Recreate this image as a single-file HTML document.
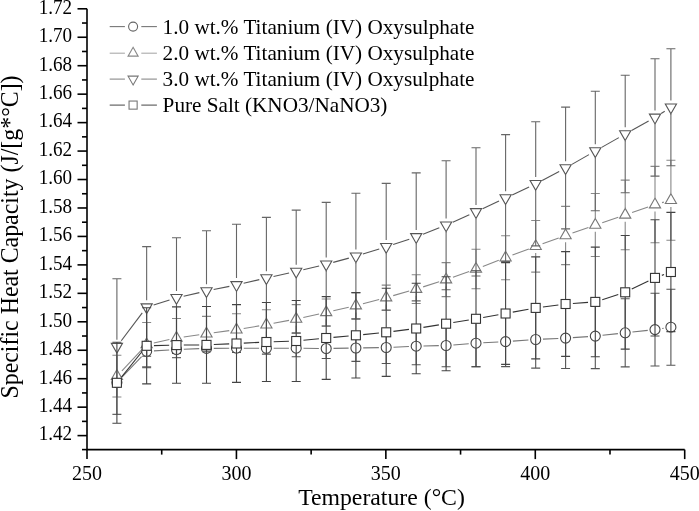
<!DOCTYPE html>
<html><head><meta charset="utf-8"><style>html,body{margin:0;padding:0;background:#fff;}svg{display:block;}</style></head>
<body><svg width="699" height="511" viewBox="0 0 699 511" font-family="'Liberation Serif','Times New Roman',serif" fill="#000">
<rect width="699" height="511" fill="#fff"/>
<g><path d="M112.40 379.50H121.40M112.40 385.50H121.40" stroke="#555" stroke-width="1.1" fill="none"/><path d="M142.15 346.30H151.15M142.15 356.30H151.15" stroke="#555" stroke-width="1.1" fill="none"/><path d="M172.00 345.50H181.00M172.00 353.50H181.00" stroke="#555" stroke-width="1.1" fill="none"/><path d="M202.00 345.00H211.00M202.00 351.80H211.00" stroke="#555" stroke-width="1.1" fill="none"/><path d="M232.00 344.00H241.00M232.00 352.40H241.00" stroke="#555" stroke-width="1.1" fill="none"/><path d="M261.90 342.50H270.90M261.90 354.10H270.90M266.40 342.50V343.30M266.40 353.30V354.10" stroke="#555" stroke-width="1.1" fill="none"/><path d="M291.70 339.60H300.70M291.70 356.80H300.70M296.20 339.60V343.20M296.20 353.20V356.80" stroke="#555" stroke-width="1.1" fill="none"/><path d="M321.70 338.50H330.70M321.70 358.50H330.70M326.20 338.50V343.50M326.20 353.50V358.50" stroke="#555" stroke-width="1.1" fill="none"/><path d="M351.40 334.60H360.40M351.40 361.40H360.40M355.90 334.60V343.00M355.90 353.00V361.40" stroke="#555" stroke-width="1.1" fill="none"/><path d="M381.70 331.50H390.70M381.70 363.50H390.70M386.20 331.50V342.50M386.20 352.50V363.50" stroke="#555" stroke-width="1.1" fill="none"/><path d="M411.70 327.60H420.70M411.70 364.80H420.70M416.20 327.60V341.20M416.20 351.20V364.80" stroke="#555" stroke-width="1.1" fill="none"/><path d="M441.60 324.20H450.60M441.60 366.80H450.60M446.10 324.20V340.50M446.10 350.50V366.80" stroke="#555" stroke-width="1.1" fill="none"/><path d="M471.50 319.60H480.50M471.50 366.80H480.50M476.00 319.60V338.20M476.00 348.20V366.80" stroke="#555" stroke-width="1.1" fill="none"/><path d="M501.10 316.60H510.10M501.10 366.60H510.10M505.60 316.60V336.60M505.60 346.60V366.60" stroke="#555" stroke-width="1.1" fill="none"/><path d="M531.20 310.90H540.20M531.20 368.10H540.20M535.70 310.90V334.50M535.70 344.50V368.10" stroke="#555" stroke-width="1.1" fill="none"/><path d="M561.10 307.70H570.10M561.10 368.50H570.10M565.60 307.70V333.10M565.60 343.10V368.50" stroke="#555" stroke-width="1.1" fill="none"/><path d="M590.80 303.60H599.80M590.80 368.60H599.80M595.30 303.60V331.10M595.30 341.10V368.60" stroke="#555" stroke-width="1.1" fill="none"/><path d="M620.70 298.70H629.70M620.70 366.90H629.70M625.20 298.70V327.80M625.20 337.80V366.90" stroke="#555" stroke-width="1.1" fill="none"/><path d="M650.50 293.20H659.50M650.50 366.00H659.50M655.00 293.20V324.60M655.00 334.60V366.00" stroke="#555" stroke-width="1.1" fill="none"/><path d="M666.40 289.20H675.40M666.40 365.20H675.40M670.90 289.20V322.20M670.90 332.20V365.20" stroke="#555" stroke-width="1.1" fill="none"/><line x1="121.94" y1="377.22" x2="141.61" y2="356.58" stroke="#777" stroke-width="1.1"/><line x1="153.94" y1="350.86" x2="169.21" y2="349.94" stroke="#777" stroke-width="1.1"/><line x1="183.80" y1="349.23" x2="199.20" y2="348.67" stroke="#777" stroke-width="1.1"/><line x1="213.80" y1="348.35" x2="229.20" y2="348.25" stroke="#777" stroke-width="1.1"/><line x1="243.80" y1="348.22" x2="259.10" y2="348.28" stroke="#777" stroke-width="1.1"/><line x1="273.70" y1="348.28" x2="288.90" y2="348.22" stroke="#777" stroke-width="1.1"/><line x1="303.50" y1="348.27" x2="318.90" y2="348.43" stroke="#777" stroke-width="1.1"/><line x1="333.50" y1="348.38" x2="348.60" y2="348.12" stroke="#777" stroke-width="1.1"/><line x1="363.20" y1="347.88" x2="378.90" y2="347.62" stroke="#777" stroke-width="1.1"/><line x1="393.49" y1="347.18" x2="408.91" y2="346.52" stroke="#777" stroke-width="1.1"/><line x1="423.50" y1="346.03" x2="438.80" y2="345.67" stroke="#777" stroke-width="1.1"/><line x1="453.38" y1="344.94" x2="468.72" y2="343.76" stroke="#777" stroke-width="1.1"/><line x1="483.29" y1="342.81" x2="498.31" y2="341.99" stroke="#777" stroke-width="1.1"/><line x1="512.88" y1="341.09" x2="528.42" y2="340.01" stroke="#777" stroke-width="1.1"/><line x1="542.99" y1="339.16" x2="558.31" y2="338.44" stroke="#777" stroke-width="1.1"/><line x1="572.88" y1="337.61" x2="588.02" y2="336.59" stroke="#777" stroke-width="1.1"/><line x1="602.56" y1="335.30" x2="617.94" y2="333.60" stroke="#777" stroke-width="1.1"/><line x1="632.46" y1="332.02" x2="647.74" y2="330.38" stroke="#777" stroke-width="1.1"/><line x1="662.22" y1="328.51" x2="663.68" y2="328.29" stroke="#777" stroke-width="1.1"/><circle cx="116.90" cy="382.50" r="5.00" fill="#fff" stroke="#444" stroke-width="1.1"/><circle cx="146.65" cy="351.30" r="5.00" fill="#fff" stroke="#444" stroke-width="1.1"/><circle cx="176.50" cy="349.50" r="5.00" fill="#fff" stroke="#444" stroke-width="1.1"/><circle cx="206.50" cy="348.40" r="5.00" fill="#fff" stroke="#444" stroke-width="1.1"/><circle cx="236.50" cy="348.20" r="5.00" fill="#fff" stroke="#444" stroke-width="1.1"/><circle cx="266.40" cy="348.30" r="5.00" fill="#fff" stroke="#444" stroke-width="1.1"/><circle cx="296.20" cy="348.20" r="5.00" fill="#fff" stroke="#444" stroke-width="1.1"/><circle cx="326.20" cy="348.50" r="5.00" fill="#fff" stroke="#444" stroke-width="1.1"/><circle cx="355.90" cy="348.00" r="5.00" fill="#fff" stroke="#444" stroke-width="1.1"/><circle cx="386.20" cy="347.50" r="5.00" fill="#fff" stroke="#444" stroke-width="1.1"/><circle cx="416.20" cy="346.20" r="5.00" fill="#fff" stroke="#444" stroke-width="1.1"/><circle cx="446.10" cy="345.50" r="5.00" fill="#fff" stroke="#444" stroke-width="1.1"/><circle cx="476.00" cy="343.20" r="5.00" fill="#fff" stroke="#444" stroke-width="1.1"/><circle cx="505.60" cy="341.60" r="5.00" fill="#fff" stroke="#444" stroke-width="1.1"/><circle cx="535.70" cy="339.50" r="5.00" fill="#fff" stroke="#444" stroke-width="1.1"/><circle cx="565.60" cy="338.10" r="5.00" fill="#fff" stroke="#444" stroke-width="1.1"/><circle cx="595.30" cy="336.10" r="5.00" fill="#fff" stroke="#444" stroke-width="1.1"/><circle cx="625.20" cy="332.80" r="5.00" fill="#fff" stroke="#444" stroke-width="1.1"/><circle cx="655.00" cy="329.60" r="5.00" fill="#fff" stroke="#444" stroke-width="1.1"/><circle cx="670.90" cy="327.20" r="5.00" fill="#fff" stroke="#444" stroke-width="1.1"/></g>
<g><path d="M112.40 355.20H121.40M112.40 397.00H121.40M116.90 355.20V369.30M116.90 382.90V397.00" stroke="#888" stroke-width="1.1" fill="none"/><path d="M142.15 322.50H151.15M142.15 366.50H151.15M146.65 322.50V337.70M146.65 351.30V366.50" stroke="#888" stroke-width="1.1" fill="none"/><path d="M172.00 318.50H181.00M172.00 357.50H181.00M176.50 318.50V331.20M176.50 344.80V357.50" stroke="#888" stroke-width="1.1" fill="none"/><path d="M202.00 316.40H211.00M202.00 351.00H211.00M206.50 316.40V326.90M206.50 340.50V351.00" stroke="#888" stroke-width="1.1" fill="none"/><path d="M232.00 313.70H241.00M232.00 345.70H241.00M236.50 313.70V322.90M236.50 336.50V345.70" stroke="#888" stroke-width="1.1" fill="none"/><path d="M261.90 309.70H270.90M261.90 339.70H270.90M266.40 309.70V317.90M266.40 331.50V339.70" stroke="#888" stroke-width="1.1" fill="none"/><path d="M291.70 304.60H300.70M291.70 333.40H300.70M296.20 304.60V312.20M296.20 325.80V333.40" stroke="#888" stroke-width="1.1" fill="none"/><path d="M321.70 299.00H330.70M321.70 325.80H330.70M326.20 299.00V305.60M326.20 319.20V325.80" stroke="#888" stroke-width="1.1" fill="none"/><path d="M351.40 292.60H360.40M351.40 318.60H360.40M355.90 292.60V298.80M355.90 312.40V318.60" stroke="#888" stroke-width="1.1" fill="none"/><path d="M381.70 285.10H390.70M381.70 310.10H390.70M386.20 285.10V290.80M386.20 304.40V310.10" stroke="#888" stroke-width="1.1" fill="none"/><path d="M411.70 274.70H420.70M411.70 303.50H420.70M416.20 274.70V282.30M416.20 295.90V303.50" stroke="#888" stroke-width="1.1" fill="none"/><path d="M441.60 262.60H450.60M441.60 296.60H450.60M446.10 262.60V272.80M446.10 286.40V296.60" stroke="#888" stroke-width="1.1" fill="none"/><path d="M471.50 249.20H480.50M471.50 288.80H480.50M476.00 249.20V262.20M476.00 275.80V288.80" stroke="#888" stroke-width="1.1" fill="none"/><path d="M501.10 235.70H510.10M501.10 279.70H510.10M505.60 235.70V250.90M505.60 264.50V279.70" stroke="#888" stroke-width="1.1" fill="none"/><path d="M531.20 220.50H540.20M531.20 272.10H540.20M535.70 220.50V239.50M535.70 253.10V272.10" stroke="#888" stroke-width="1.1" fill="none"/><path d="M561.10 206.40H570.10M561.10 264.60H570.10M565.60 206.40V228.70M565.60 242.30V264.60" stroke="#888" stroke-width="1.1" fill="none"/><path d="M590.80 193.50H599.80M590.80 256.50H599.80M595.30 193.50V218.20M595.30 231.80V256.50" stroke="#888" stroke-width="1.1" fill="none"/><path d="M620.70 180.10H629.70M620.70 249.70H629.70M625.20 180.10V208.10M625.20 221.70V249.70" stroke="#888" stroke-width="1.1" fill="none"/><path d="M650.50 166.40H659.50M650.50 242.80H659.50M655.00 166.40V197.80M655.00 211.40V242.80" stroke="#888" stroke-width="1.1" fill="none"/><path d="M666.40 160.20H675.40M666.40 240.20H675.40M670.90 160.20V193.40M670.90 207.00V240.20" stroke="#888" stroke-width="1.1" fill="none"/><line x1="121.90" y1="370.78" x2="141.65" y2="349.82" stroke="#888" stroke-width="1.1"/><line x1="153.78" y1="342.95" x2="169.37" y2="339.55" stroke="#888" stroke-width="1.1"/><line x1="183.73" y1="336.96" x2="199.27" y2="334.74" stroke="#888" stroke-width="1.1"/><line x1="213.74" y1="332.74" x2="229.26" y2="330.66" stroke="#888" stroke-width="1.1"/><line x1="243.70" y1="328.50" x2="259.20" y2="325.90" stroke="#888" stroke-width="1.1"/><line x1="273.57" y1="323.33" x2="289.03" y2="320.37" stroke="#888" stroke-width="1.1"/><line x1="303.33" y1="317.43" x2="319.07" y2="313.97" stroke="#888" stroke-width="1.1"/><line x1="333.32" y1="310.77" x2="348.78" y2="307.23" stroke="#888" stroke-width="1.1"/><line x1="362.96" y1="303.74" x2="379.14" y2="299.46" stroke="#888" stroke-width="1.1"/><line x1="393.22" y1="295.61" x2="409.18" y2="291.09" stroke="#888" stroke-width="1.1"/><line x1="423.16" y1="286.89" x2="439.14" y2="281.81" stroke="#888" stroke-width="1.1"/><line x1="452.98" y1="277.16" x2="469.12" y2="271.44" stroke="#888" stroke-width="1.1"/><line x1="482.82" y1="266.40" x2="498.78" y2="260.30" stroke="#888" stroke-width="1.1"/><line x1="512.43" y1="255.11" x2="528.87" y2="248.89" stroke="#888" stroke-width="1.1"/><line x1="542.57" y1="243.82" x2="558.73" y2="237.98" stroke="#888" stroke-width="1.1"/><line x1="572.48" y1="233.07" x2="588.42" y2="227.43" stroke="#888" stroke-width="1.1"/><line x1="602.22" y1="222.66" x2="618.28" y2="217.24" stroke="#888" stroke-width="1.1"/><line x1="632.10" y1="212.52" x2="648.10" y2="206.98" stroke="#888" stroke-width="1.1"/><line x1="662.04" y1="202.65" x2="663.86" y2="202.15" stroke="#888" stroke-width="1.1"/><polygon points="116.90,369.57 122.50,379.37 111.30,379.37" fill="#fff" stroke="#777" stroke-width="1.1" stroke-linejoin="miter"/><polygon points="146.65,337.97 152.25,347.77 141.05,347.77" fill="#fff" stroke="#777" stroke-width="1.1" stroke-linejoin="miter"/><polygon points="176.50,331.47 182.10,341.27 170.90,341.27" fill="#fff" stroke="#777" stroke-width="1.1" stroke-linejoin="miter"/><polygon points="206.50,327.17 212.10,336.97 200.90,336.97" fill="#fff" stroke="#777" stroke-width="1.1" stroke-linejoin="miter"/><polygon points="236.50,323.17 242.10,332.97 230.90,332.97" fill="#fff" stroke="#777" stroke-width="1.1" stroke-linejoin="miter"/><polygon points="266.40,318.17 272.00,327.97 260.80,327.97" fill="#fff" stroke="#777" stroke-width="1.1" stroke-linejoin="miter"/><polygon points="296.20,312.47 301.80,322.27 290.60,322.27" fill="#fff" stroke="#777" stroke-width="1.1" stroke-linejoin="miter"/><polygon points="326.20,305.87 331.80,315.67 320.60,315.67" fill="#fff" stroke="#777" stroke-width="1.1" stroke-linejoin="miter"/><polygon points="355.90,299.07 361.50,308.87 350.30,308.87" fill="#fff" stroke="#777" stroke-width="1.1" stroke-linejoin="miter"/><polygon points="386.20,291.07 391.80,300.87 380.60,300.87" fill="#fff" stroke="#777" stroke-width="1.1" stroke-linejoin="miter"/><polygon points="416.20,282.57 421.80,292.37 410.60,292.37" fill="#fff" stroke="#777" stroke-width="1.1" stroke-linejoin="miter"/><polygon points="446.10,273.07 451.70,282.87 440.50,282.87" fill="#fff" stroke="#777" stroke-width="1.1" stroke-linejoin="miter"/><polygon points="476.00,262.47 481.60,272.27 470.40,272.27" fill="#fff" stroke="#777" stroke-width="1.1" stroke-linejoin="miter"/><polygon points="505.60,251.17 511.20,260.97 500.00,260.97" fill="#fff" stroke="#777" stroke-width="1.1" stroke-linejoin="miter"/><polygon points="535.70,239.77 541.30,249.57 530.10,249.57" fill="#fff" stroke="#777" stroke-width="1.1" stroke-linejoin="miter"/><polygon points="565.60,228.97 571.20,238.77 560.00,238.77" fill="#fff" stroke="#777" stroke-width="1.1" stroke-linejoin="miter"/><polygon points="595.30,218.47 600.90,228.27 589.70,228.27" fill="#fff" stroke="#777" stroke-width="1.1" stroke-linejoin="miter"/><polygon points="625.20,208.37 630.80,218.17 619.60,218.17" fill="#fff" stroke="#777" stroke-width="1.1" stroke-linejoin="miter"/><polygon points="655.00,198.07 660.60,207.87 649.40,207.87" fill="#fff" stroke="#777" stroke-width="1.1" stroke-linejoin="miter"/><polygon points="670.90,193.67 676.50,203.47 665.30,203.47" fill="#fff" stroke="#777" stroke-width="1.1" stroke-linejoin="miter"/></g>
<g><path d="M112.40 278.80H121.40M112.40 414.40H121.40M116.90 278.80V339.80M116.90 353.40V414.40" stroke="#666" stroke-width="1.1" fill="none"/><path d="M142.15 246.60H151.15M142.15 367.60H151.15M146.65 246.60V300.30M146.65 313.90V367.60" stroke="#666" stroke-width="1.1" fill="none"/><path d="M172.00 237.80H181.00M172.00 357.80H181.00M176.50 237.80V291.00M176.50 304.60V357.80" stroke="#666" stroke-width="1.1" fill="none"/><path d="M202.00 230.70H211.00M202.00 351.30H211.00M206.50 230.70V284.20M206.50 297.80V351.30" stroke="#666" stroke-width="1.1" fill="none"/><path d="M232.00 224.20H241.00M232.00 345.60H241.00M236.50 224.20V278.10M236.50 291.70V345.60" stroke="#666" stroke-width="1.1" fill="none"/><path d="M261.90 217.40H270.90M261.90 338.60H270.90M266.40 217.40V271.20M266.40 284.80V338.60" stroke="#666" stroke-width="1.1" fill="none"/><path d="M291.70 210.10H300.70M291.70 332.90H300.70M296.20 210.10V264.70M296.20 278.30V332.90" stroke="#666" stroke-width="1.1" fill="none"/><path d="M321.70 202.40H330.70M321.70 326.20H330.70M326.20 202.40V257.50M326.20 271.10V326.20" stroke="#666" stroke-width="1.1" fill="none"/><path d="M351.40 193.30H360.40M351.40 319.10H360.40M355.90 193.30V249.40M355.90 263.00V319.10" stroke="#666" stroke-width="1.1" fill="none"/><path d="M381.70 183.40H390.70M381.70 310.20H390.70M386.20 183.40V240.00M386.20 253.60V310.20" stroke="#666" stroke-width="1.1" fill="none"/><path d="M411.70 172.90H420.70M411.70 300.90H420.70M416.20 172.90V230.10M416.20 243.70V300.90" stroke="#666" stroke-width="1.1" fill="none"/><path d="M441.60 160.70H450.60M441.60 289.70H450.60M446.10 160.70V218.40M446.10 232.00V289.70" stroke="#666" stroke-width="1.1" fill="none"/><path d="M471.50 147.80H480.50M471.50 276.00H480.50M476.00 147.80V205.10M476.00 218.70V276.00" stroke="#666" stroke-width="1.1" fill="none"/><path d="M501.10 134.60H510.10M501.10 261.40H510.10M505.60 134.60V191.20M505.60 204.80V261.40" stroke="#666" stroke-width="1.1" fill="none"/><path d="M531.20 121.70H540.20M531.20 245.90H540.20M535.70 121.70V177.00M535.70 190.60V245.90" stroke="#666" stroke-width="1.1" fill="none"/><path d="M561.10 107.10H570.10M561.10 228.90H570.10M565.60 107.10V161.20M565.60 174.80V228.90" stroke="#666" stroke-width="1.1" fill="none"/><path d="M590.80 91.20H599.80M590.80 210.80H599.80M595.30 91.20V144.20M595.30 157.80V210.80" stroke="#666" stroke-width="1.1" fill="none"/><path d="M620.70 75.30H629.70M620.70 192.70H629.70M625.20 75.30V127.20M625.20 140.80V192.70" stroke="#666" stroke-width="1.1" fill="none"/><path d="M650.50 58.70H659.50M650.50 176.10H659.50M655.00 58.70V110.60M655.00 124.20V176.10" stroke="#666" stroke-width="1.1" fill="none"/><path d="M666.40 48.80H675.40M666.40 165.80H675.40M670.90 48.80V100.50M670.90 114.10V165.80" stroke="#666" stroke-width="1.1" fill="none"/><line x1="121.29" y1="340.77" x2="142.26" y2="312.93" stroke="#555" stroke-width="1.1"/><line x1="153.62" y1="304.93" x2="169.53" y2="299.97" stroke="#555" stroke-width="1.1"/><line x1="183.62" y1="296.19" x2="199.38" y2="292.61" stroke="#555" stroke-width="1.1"/><line x1="213.65" y1="289.55" x2="229.35" y2="286.35" stroke="#555" stroke-width="1.1"/><line x1="243.61" y1="283.26" x2="259.29" y2="279.64" stroke="#555" stroke-width="1.1"/><line x1="273.53" y1="276.44" x2="289.07" y2="273.06" stroke="#555" stroke-width="1.1"/><line x1="303.30" y1="269.80" x2="319.10" y2="266.00" stroke="#555" stroke-width="1.1"/><line x1="333.24" y1="262.38" x2="348.86" y2="258.12" stroke="#555" stroke-width="1.1"/><line x1="362.87" y1="254.04" x2="379.23" y2="248.96" stroke="#555" stroke-width="1.1"/><line x1="393.13" y1="244.51" x2="409.27" y2="239.19" stroke="#555" stroke-width="1.1"/><line x1="423.00" y1="234.24" x2="439.30" y2="227.86" stroke="#555" stroke-width="1.1"/><line x1="452.77" y1="222.23" x2="469.33" y2="214.87" stroke="#555" stroke-width="1.1"/><line x1="482.61" y1="208.80" x2="498.99" y2="201.10" stroke="#555" stroke-width="1.1"/><line x1="512.20" y1="194.89" x2="529.10" y2="186.91" stroke="#555" stroke-width="1.1"/><line x1="542.15" y1="180.39" x2="559.15" y2="171.41" stroke="#555" stroke-width="1.1"/><line x1="571.94" y1="164.37" x2="588.96" y2="154.63" stroke="#555" stroke-width="1.1"/><line x1="601.65" y1="147.39" x2="618.85" y2="137.61" stroke="#555" stroke-width="1.1"/><line x1="631.58" y1="130.45" x2="648.62" y2="120.95" stroke="#555" stroke-width="1.1"/><line x1="661.16" y1="113.49" x2="664.74" y2="111.21" stroke="#555" stroke-width="1.1"/><polygon points="116.90,353.13 122.50,343.33 111.30,343.33" fill="#fff" stroke="#555" stroke-width="1.1" stroke-linejoin="miter"/><polygon points="146.65,313.63 152.25,303.83 141.05,303.83" fill="#fff" stroke="#555" stroke-width="1.1" stroke-linejoin="miter"/><polygon points="176.50,304.33 182.10,294.53 170.90,294.53" fill="#fff" stroke="#555" stroke-width="1.1" stroke-linejoin="miter"/><polygon points="206.50,297.53 212.10,287.73 200.90,287.73" fill="#fff" stroke="#555" stroke-width="1.1" stroke-linejoin="miter"/><polygon points="236.50,291.43 242.10,281.63 230.90,281.63" fill="#fff" stroke="#555" stroke-width="1.1" stroke-linejoin="miter"/><polygon points="266.40,284.53 272.00,274.73 260.80,274.73" fill="#fff" stroke="#555" stroke-width="1.1" stroke-linejoin="miter"/><polygon points="296.20,278.03 301.80,268.23 290.60,268.23" fill="#fff" stroke="#555" stroke-width="1.1" stroke-linejoin="miter"/><polygon points="326.20,270.83 331.80,261.03 320.60,261.03" fill="#fff" stroke="#555" stroke-width="1.1" stroke-linejoin="miter"/><polygon points="355.90,262.73 361.50,252.93 350.30,252.93" fill="#fff" stroke="#555" stroke-width="1.1" stroke-linejoin="miter"/><polygon points="386.20,253.33 391.80,243.53 380.60,243.53" fill="#fff" stroke="#555" stroke-width="1.1" stroke-linejoin="miter"/><polygon points="416.20,243.43 421.80,233.63 410.60,233.63" fill="#fff" stroke="#555" stroke-width="1.1" stroke-linejoin="miter"/><polygon points="446.10,231.73 451.70,221.93 440.50,221.93" fill="#fff" stroke="#555" stroke-width="1.1" stroke-linejoin="miter"/><polygon points="476.00,218.43 481.60,208.63 470.40,208.63" fill="#fff" stroke="#555" stroke-width="1.1" stroke-linejoin="miter"/><polygon points="505.60,204.53 511.20,194.73 500.00,194.73" fill="#fff" stroke="#555" stroke-width="1.1" stroke-linejoin="miter"/><polygon points="535.70,190.33 541.30,180.53 530.10,180.53" fill="#fff" stroke="#555" stroke-width="1.1" stroke-linejoin="miter"/><polygon points="565.60,174.53 571.20,164.73 560.00,164.73" fill="#fff" stroke="#555" stroke-width="1.1" stroke-linejoin="miter"/><polygon points="595.30,157.53 600.90,147.73 589.70,147.73" fill="#fff" stroke="#555" stroke-width="1.1" stroke-linejoin="miter"/><polygon points="625.20,140.53 630.80,130.73 619.60,130.73" fill="#fff" stroke="#555" stroke-width="1.1" stroke-linejoin="miter"/><polygon points="655.00,123.93 660.60,114.13 649.40,114.13" fill="#fff" stroke="#555" stroke-width="1.1" stroke-linejoin="miter"/><polygon points="670.90,113.83 676.50,104.03 665.30,104.03" fill="#fff" stroke="#555" stroke-width="1.1" stroke-linejoin="miter"/></g>
<g><path d="M112.40 342.30H121.40M112.40 423.30H121.40M116.90 342.30V378.20M116.90 387.40V423.30" stroke="#444" stroke-width="1.1" fill="none"/><path d="M142.15 307.70H151.15M142.15 383.90H151.15M146.65 307.70V341.20M146.65 350.40V383.90" stroke="#444" stroke-width="1.1" fill="none"/><path d="M172.00 306.90H181.00M172.00 383.30H181.00M176.50 306.90V340.50M176.50 349.70V383.30" stroke="#444" stroke-width="1.1" fill="none"/><path d="M202.00 306.50H211.00M202.00 383.30H211.00M206.50 306.50V340.30M206.50 349.50V383.30" stroke="#444" stroke-width="1.1" fill="none"/><path d="M232.00 304.60H241.00M232.00 382.40H241.00M236.50 304.60V338.90M236.50 348.10V382.40" stroke="#444" stroke-width="1.1" fill="none"/><path d="M261.90 302.50H270.90M261.90 381.50H270.90M266.40 302.50V337.40M266.40 346.60V381.50" stroke="#444" stroke-width="1.1" fill="none"/><path d="M291.70 300.50H300.70M291.70 381.50H300.70M296.20 300.50V336.40M296.20 345.60V381.50" stroke="#444" stroke-width="1.1" fill="none"/><path d="M321.70 296.60H330.70M321.70 379.40H330.70M326.20 296.60V333.40M326.20 342.60V379.40" stroke="#444" stroke-width="1.1" fill="none"/><path d="M351.40 292.60H360.40M351.40 378.00H360.40M355.90 292.60V330.70M355.90 339.90V378.00" stroke="#444" stroke-width="1.1" fill="none"/><path d="M381.70 288.20H390.70M381.70 376.40H390.70M386.20 288.20V327.70M386.20 336.90V376.40" stroke="#444" stroke-width="1.1" fill="none"/><path d="M411.70 283.20H420.70M411.70 373.80H420.70M416.20 283.20V323.90M416.20 333.10V373.80" stroke="#444" stroke-width="1.1" fill="none"/><path d="M441.60 276.70H450.60M441.60 370.70H450.60M446.10 276.70V319.10M446.10 328.30V370.70" stroke="#444" stroke-width="1.1" fill="none"/><path d="M471.50 270.80H480.50M471.50 366.80H480.50M476.00 270.80V314.20M476.00 323.40V366.80" stroke="#444" stroke-width="1.1" fill="none"/><path d="M501.10 262.60H510.10M501.10 364.40H510.10M505.60 262.60V308.90M505.60 318.10V364.40" stroke="#444" stroke-width="1.1" fill="none"/><path d="M531.20 256.90H540.20M531.20 358.90H540.20M535.70 256.90V303.30M535.70 312.50V358.90" stroke="#444" stroke-width="1.1" fill="none"/><path d="M561.10 251.60H570.10M561.10 356.40H570.10M565.60 251.60V299.40M565.60 308.60V356.40" stroke="#444" stroke-width="1.1" fill="none"/><path d="M590.80 247.10H599.80M590.80 356.70H599.80M595.30 247.10V297.30M595.30 306.50V356.70" stroke="#444" stroke-width="1.1" fill="none"/><path d="M620.70 235.50H629.70M620.70 349.10H629.70M625.20 235.50V287.70M625.20 296.90V349.10" stroke="#444" stroke-width="1.1" fill="none"/><path d="M650.50 219.80H659.50M650.50 336.00H659.50M655.00 219.80V273.30M655.00 282.50V336.00" stroke="#444" stroke-width="1.1" fill="none"/><path d="M666.40 212.40H675.40M666.40 331.60H675.40M670.90 212.40V267.40M670.90 276.60V331.60" stroke="#444" stroke-width="1.1" fill="none"/><line x1="121.47" y1="377.11" x2="142.08" y2="351.49" stroke="#333" stroke-width="1.1"/><line x1="153.95" y1="345.63" x2="169.20" y2="345.27" stroke="#333" stroke-width="1.1"/><line x1="183.80" y1="345.05" x2="199.20" y2="344.95" stroke="#333" stroke-width="1.1"/><line x1="213.79" y1="344.56" x2="229.21" y2="343.84" stroke="#333" stroke-width="1.1"/><line x1="243.79" y1="343.13" x2="259.11" y2="342.37" stroke="#333" stroke-width="1.1"/><line x1="273.70" y1="341.76" x2="288.90" y2="341.24" stroke="#333" stroke-width="1.1"/><line x1="303.46" y1="340.27" x2="318.94" y2="338.73" stroke="#333" stroke-width="1.1"/><line x1="333.47" y1="337.34" x2="348.63" y2="335.96" stroke="#333" stroke-width="1.1"/><line x1="363.16" y1="334.58" x2="378.94" y2="333.02" stroke="#333" stroke-width="1.1"/><line x1="393.44" y1="331.38" x2="408.96" y2="329.42" stroke="#333" stroke-width="1.1"/><line x1="423.41" y1="327.34" x2="438.89" y2="324.86" stroke="#333" stroke-width="1.1"/><line x1="453.30" y1="322.52" x2="468.80" y2="319.98" stroke="#333" stroke-width="1.1"/><line x1="483.19" y1="317.51" x2="498.41" y2="314.79" stroke="#333" stroke-width="1.1"/><line x1="512.78" y1="312.16" x2="528.52" y2="309.24" stroke="#333" stroke-width="1.1"/><line x1="542.94" y1="306.96" x2="558.36" y2="304.94" stroke="#333" stroke-width="1.1"/><line x1="572.88" y1="303.49" x2="588.02" y2="302.41" stroke="#333" stroke-width="1.1"/><line x1="602.25" y1="299.67" x2="618.25" y2="294.53" stroke="#333" stroke-width="1.1"/><line x1="631.77" y1="289.12" x2="648.43" y2="281.08" stroke="#333" stroke-width="1.1"/><line x1="661.84" y1="275.36" x2="664.06" y2="274.54" stroke="#333" stroke-width="1.1"/><rect x="112.40" y="378.30" width="9.00" height="9.00" fill="#fff" stroke="#333" stroke-width="1.1"/><rect x="142.15" y="341.30" width="9.00" height="9.00" fill="#fff" stroke="#333" stroke-width="1.1"/><rect x="172.00" y="340.60" width="9.00" height="9.00" fill="#fff" stroke="#333" stroke-width="1.1"/><rect x="202.00" y="340.40" width="9.00" height="9.00" fill="#fff" stroke="#333" stroke-width="1.1"/><rect x="232.00" y="339.00" width="9.00" height="9.00" fill="#fff" stroke="#333" stroke-width="1.1"/><rect x="261.90" y="337.50" width="9.00" height="9.00" fill="#fff" stroke="#333" stroke-width="1.1"/><rect x="291.70" y="336.50" width="9.00" height="9.00" fill="#fff" stroke="#333" stroke-width="1.1"/><rect x="321.70" y="333.50" width="9.00" height="9.00" fill="#fff" stroke="#333" stroke-width="1.1"/><rect x="351.40" y="330.80" width="9.00" height="9.00" fill="#fff" stroke="#333" stroke-width="1.1"/><rect x="381.70" y="327.80" width="9.00" height="9.00" fill="#fff" stroke="#333" stroke-width="1.1"/><rect x="411.70" y="324.00" width="9.00" height="9.00" fill="#fff" stroke="#333" stroke-width="1.1"/><rect x="441.60" y="319.20" width="9.00" height="9.00" fill="#fff" stroke="#333" stroke-width="1.1"/><rect x="471.50" y="314.30" width="9.00" height="9.00" fill="#fff" stroke="#333" stroke-width="1.1"/><rect x="501.10" y="309.00" width="9.00" height="9.00" fill="#fff" stroke="#333" stroke-width="1.1"/><rect x="531.20" y="303.40" width="9.00" height="9.00" fill="#fff" stroke="#333" stroke-width="1.1"/><rect x="561.10" y="299.50" width="9.00" height="9.00" fill="#fff" stroke="#333" stroke-width="1.1"/><rect x="590.80" y="297.40" width="9.00" height="9.00" fill="#fff" stroke="#333" stroke-width="1.1"/><rect x="620.70" y="287.80" width="9.00" height="9.00" fill="#fff" stroke="#333" stroke-width="1.1"/><rect x="650.50" y="273.40" width="9.00" height="9.00" fill="#fff" stroke="#333" stroke-width="1.1"/><rect x="666.40" y="267.50" width="9.00" height="9.00" fill="#fff" stroke="#333" stroke-width="1.1"/></g>
<path d="M87 8.8V449.6H684.7" stroke="#000" stroke-width="1.6" fill="none"/>
<line x1="77.5" y1="8.80" x2="87" y2="8.80" stroke="#000" stroke-width="1.6"/>
<text transform="translate(72.1,13.60) scale(0.91,1)" text-anchor="end" font-size="21">1.72</text>
<line x1="82" y1="23.03" x2="87" y2="23.03" stroke="#000" stroke-width="1.6"/>
<line x1="77.5" y1="37.25" x2="87" y2="37.25" stroke="#000" stroke-width="1.6"/>
<text transform="translate(72.1,42.05) scale(0.91,1)" text-anchor="end" font-size="21">1.70</text>
<line x1="82" y1="51.48" x2="87" y2="51.48" stroke="#000" stroke-width="1.6"/>
<line x1="77.5" y1="65.71" x2="87" y2="65.71" stroke="#000" stroke-width="1.6"/>
<text transform="translate(72.1,70.51) scale(0.91,1)" text-anchor="end" font-size="21">1.68</text>
<line x1="82" y1="79.94" x2="87" y2="79.94" stroke="#000" stroke-width="1.6"/>
<line x1="77.5" y1="94.16" x2="87" y2="94.16" stroke="#000" stroke-width="1.6"/>
<text transform="translate(72.1,98.96) scale(0.91,1)" text-anchor="end" font-size="21">1.66</text>
<line x1="82" y1="108.39" x2="87" y2="108.39" stroke="#000" stroke-width="1.6"/>
<line x1="77.5" y1="122.62" x2="87" y2="122.62" stroke="#000" stroke-width="1.6"/>
<text transform="translate(72.1,127.42) scale(0.91,1)" text-anchor="end" font-size="21">1.64</text>
<line x1="82" y1="136.84" x2="87" y2="136.84" stroke="#000" stroke-width="1.6"/>
<line x1="77.5" y1="151.07" x2="87" y2="151.07" stroke="#000" stroke-width="1.6"/>
<text transform="translate(72.1,155.87) scale(0.91,1)" text-anchor="end" font-size="21">1.62</text>
<line x1="82" y1="165.30" x2="87" y2="165.30" stroke="#000" stroke-width="1.6"/>
<line x1="77.5" y1="179.52" x2="87" y2="179.52" stroke="#000" stroke-width="1.6"/>
<text transform="translate(72.1,184.32) scale(0.91,1)" text-anchor="end" font-size="21">1.60</text>
<line x1="82" y1="193.75" x2="87" y2="193.75" stroke="#000" stroke-width="1.6"/>
<line x1="77.5" y1="207.98" x2="87" y2="207.98" stroke="#000" stroke-width="1.6"/>
<text transform="translate(72.1,212.78) scale(0.91,1)" text-anchor="end" font-size="21">1.58</text>
<line x1="82" y1="222.20" x2="87" y2="222.20" stroke="#000" stroke-width="1.6"/>
<line x1="77.5" y1="236.43" x2="87" y2="236.43" stroke="#000" stroke-width="1.6"/>
<text transform="translate(72.1,241.23) scale(0.91,1)" text-anchor="end" font-size="21">1.56</text>
<line x1="82" y1="250.66" x2="87" y2="250.66" stroke="#000" stroke-width="1.6"/>
<line x1="77.5" y1="264.89" x2="87" y2="264.89" stroke="#000" stroke-width="1.6"/>
<text transform="translate(72.1,269.69) scale(0.91,1)" text-anchor="end" font-size="21">1.54</text>
<line x1="82" y1="279.11" x2="87" y2="279.11" stroke="#000" stroke-width="1.6"/>
<line x1="77.5" y1="293.34" x2="87" y2="293.34" stroke="#000" stroke-width="1.6"/>
<text transform="translate(72.1,298.14) scale(0.91,1)" text-anchor="end" font-size="21">1.52</text>
<line x1="82" y1="307.57" x2="87" y2="307.57" stroke="#000" stroke-width="1.6"/>
<line x1="77.5" y1="321.79" x2="87" y2="321.79" stroke="#000" stroke-width="1.6"/>
<text transform="translate(72.1,326.59) scale(0.91,1)" text-anchor="end" font-size="21">1.50</text>
<line x1="82" y1="336.02" x2="87" y2="336.02" stroke="#000" stroke-width="1.6"/>
<line x1="77.5" y1="350.25" x2="87" y2="350.25" stroke="#000" stroke-width="1.6"/>
<text transform="translate(72.1,355.05) scale(0.91,1)" text-anchor="end" font-size="21">1.48</text>
<line x1="82" y1="364.48" x2="87" y2="364.48" stroke="#000" stroke-width="1.6"/>
<line x1="77.5" y1="378.70" x2="87" y2="378.70" stroke="#000" stroke-width="1.6"/>
<text transform="translate(72.1,383.50) scale(0.91,1)" text-anchor="end" font-size="21">1.46</text>
<line x1="82" y1="392.93" x2="87" y2="392.93" stroke="#000" stroke-width="1.6"/>
<line x1="77.5" y1="407.16" x2="87" y2="407.16" stroke="#000" stroke-width="1.6"/>
<text transform="translate(72.1,411.96) scale(0.91,1)" text-anchor="end" font-size="21">1.44</text>
<line x1="82" y1="421.38" x2="87" y2="421.38" stroke="#000" stroke-width="1.6"/>
<line x1="77.5" y1="435.61" x2="87" y2="435.61" stroke="#000" stroke-width="1.6"/>
<text transform="translate(72.1,440.41) scale(0.91,1)" text-anchor="end" font-size="21">1.42</text>
<line x1="82" y1="449.60" x2="87" y2="449.60" stroke="#000" stroke-width="1.6"/>
<line x1="87.00" y1="449.6" x2="87.00" y2="459.1" stroke="#000" stroke-width="1.6"/>
<text x="87.00" y="480" text-anchor="middle" font-size="20">250</text>
<line x1="161.71" y1="449.6" x2="161.71" y2="454.6" stroke="#000" stroke-width="1.6"/>
<line x1="236.43" y1="449.6" x2="236.43" y2="459.1" stroke="#000" stroke-width="1.6"/>
<text x="236.43" y="480" text-anchor="middle" font-size="20">300</text>
<line x1="311.14" y1="449.6" x2="311.14" y2="454.6" stroke="#000" stroke-width="1.6"/>
<line x1="385.85" y1="449.6" x2="385.85" y2="459.1" stroke="#000" stroke-width="1.6"/>
<text x="385.85" y="480" text-anchor="middle" font-size="20">350</text>
<line x1="460.56" y1="449.6" x2="460.56" y2="454.6" stroke="#000" stroke-width="1.6"/>
<line x1="535.28" y1="449.6" x2="535.28" y2="459.1" stroke="#000" stroke-width="1.6"/>
<text x="535.28" y="480" text-anchor="middle" font-size="20">400</text>
<line x1="609.99" y1="449.6" x2="609.99" y2="454.6" stroke="#000" stroke-width="1.6"/>
<line x1="684.70" y1="449.6" x2="684.70" y2="459.1" stroke="#000" stroke-width="1.6"/>
<text x="684.70" y="480" text-anchor="middle" font-size="20">450</text>
<text x="381.5" y="505" text-anchor="middle" font-size="23.75">Temperature (°C)</text>
<text transform="translate(17.9,237) rotate(-90) scale(0.937,1)" text-anchor="middle" font-size="25.5">Specific Heat Capacity (J/[g*°C])</text>
<line x1="109.7" y1="26.6" x2="124.9" y2="26.6" stroke="#777" stroke-width="1.1"/>
<line x1="141.3" y1="26.6" x2="156.9" y2="26.6" stroke="#777" stroke-width="1.1"/>
<circle cx="133.10" cy="26.60" r="4.50" fill="#fff" stroke="#666" stroke-width="1.1"/>
<text x="162.6" y="33.80" font-size="21.2">1.0 wt.% Titanium (IV) Oxysulphate</text>
<line x1="109.7" y1="53.2" x2="124.9" y2="53.2" stroke="#aaa" stroke-width="1.1"/>
<line x1="141.3" y1="53.2" x2="156.9" y2="53.2" stroke="#aaa" stroke-width="1.1"/>
<polygon points="133.10,47.32 138.14,56.14 128.06,56.14" fill="#fff" stroke="#888" stroke-width="1.1" stroke-linejoin="miter"/>
<text x="162.6" y="60.40" font-size="21.2">2.0 wt.% Titanium (IV) Oxysulphate</text>
<line x1="109.7" y1="79.1" x2="124.9" y2="79.1" stroke="#888" stroke-width="1.1"/>
<line x1="141.3" y1="79.1" x2="156.9" y2="79.1" stroke="#888" stroke-width="1.1"/>
<polygon points="133.10,84.98 138.14,76.16 128.06,76.16" fill="#fff" stroke="#777" stroke-width="1.1" stroke-linejoin="miter"/>
<text x="162.6" y="86.30" font-size="21.2">3.0 wt.% Titanium (IV) Oxysulphate</text>
<line x1="109.7" y1="105.1" x2="124.9" y2="105.1" stroke="#555" stroke-width="1.1"/>
<line x1="141.3" y1="105.1" x2="156.9" y2="105.1" stroke="#555" stroke-width="1.1"/>
<rect x="129.05" y="101.05" width="8.10" height="8.10" fill="#fff" stroke="#777" stroke-width="1.1"/>
<text x="162.6" y="112.30" font-size="21.2">Pure Salt (KNO3/NaNO3)</text>
</svg></body></html>
